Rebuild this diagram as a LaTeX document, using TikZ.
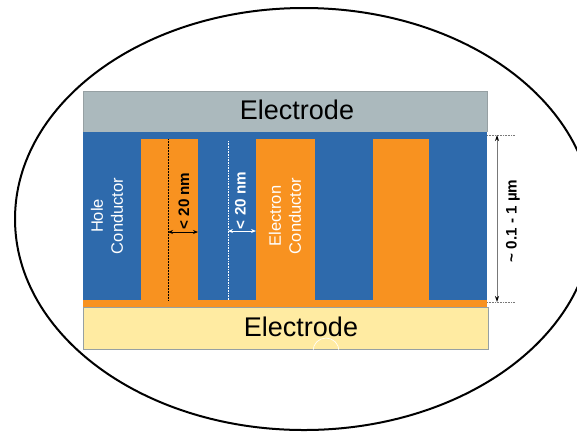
\documentclass[tikz,border=0pt]{standalone}
\usepackage{fontspec}
\setmainfont{Liberation Sans}
\usetikzlibrary{arrows.meta}
\definecolor{elgray}{RGB}{171,185,189}
\definecolor{elgrayline}{RGB}{150,160,163}
\definecolor{cblue}{RGB}{46,106,172}
\definecolor{corange}{RGB}{248,146,32}
\definecolor{cyellow}{RGB}{255,235,162}
\definecolor{dimgray}{RGB}{120,120,120}
\tikzset{
  bigtxt/.style={font=\fontsize{27}{30}\selectfont, text=black, inner sep=0pt},
  condtxt/.style={font=\fontsize{16.5}{20}\selectfont, text=white, align=center, rotate=90, inner sep=0pt},
  dimtxt/.style={font=\bfseries\fontsize{15.2}{18}\selectfont, rotate=90, inner sep=0pt},
  fingerbox/.style={fill=corange},
  dimarrow/.style={line width=0.9pt, {Stealth[length=5pt,width=4pt]}-{Stealth[length=5pt,width=4pt]}},
}
\begin{document}
\begin{tikzpicture}[x=1pt,y=-1pt]
\useasboundingbox (0,0) rectangle (577,432);
% outer ellipse
\begin{scope}
  \clip (0,0) rectangle (577,432);
  \draw[line width=2pt] (304,219) ellipse [x radius=289, y radius=211];
\end{scope}
% top electrode
\fill[elgray] (83,91) rectangle (487,132);
\draw[elgrayline, line width=0.5pt] (83,132) -- (83,91) -- (487,91) -- (487,132);
\node[bigtxt] (topel) at (297,110) {Electrode};
% blue layer
\fill[cblue] (83,132) rectangle (487,300);
% orange fingers and bottom strip
\fill[fingerbox] (141,139) rectangle (198,300);
\fill[fingerbox] (256,139) rectangle (315,300);
\fill[fingerbox] (373,139) rectangle (429,300);
\fill[corange] (83,300) rectangle (487,307);
% bottom electrode
\fill[cyellow] (83,307) rectangle (488,349);
\draw[elgrayline, line width=0.6pt] (83,307) rectangle (488,349);
\begin{scope}
  \clip (83,307) rectangle (488,349);
  \draw[white, line width=0.6pt] (326,351) circle (13);
\end{scope}
\node[bigtxt] (botel) at (301,327) {Electrode};
% conductor labels
\node[condtxt] (hole) at (107,216) {Hole\\Conductor};
\node[condtxt] (elec) at (285,216) {Electron\\Conductor};
% dotted guide lines
\coordinate (g1t) at (168,139); \coordinate (g1b) at (168,300);
\coordinate (g2t) at (228,141); \coordinate (g2b) at (228,300);
\draw[black, densely dotted, line width=0.5pt] (g1t) -- (g1b);
\draw[white, densely dotted, line width=0.6pt] (g2t) -- (g2b);
% width arrows
\coordinate (a1l) at (168,232); \coordinate (a1r) at (198,232);
\coordinate (a2l) at (228,231); \coordinate (a2r) at (256,231);
\draw[dimarrow, black] (a1l) -- (a1r);
\draw[dimarrow, white] (a2l) -- (a2r);
\node[dimtxt, text=black] (w1) at (184,201) {< 20 nm};
\node[dimtxt, text=white] (w2) at (240.5,200.5) {< 20 nm};
% thickness dimension
\coordinate (dt) at (497,135); \coordinate (db) at (497,302);
\draw[dimgray, densely dotted, line width=0.6pt] (487,135) -- (515,135);
\draw[dimgray, densely dotted, line width=0.6pt] (487,302) -- (515,302);
\draw[dimgray, line width=0.8pt, {Stealth[black,length=6pt,width=4pt]}-{Stealth[black,length=6pt,width=4pt]}] (dt) -- (db);
\node[dimtxt, text=black] (thick) at (513,221) {\textasciitilde{} 0.1 - 1 µm};
\end{tikzpicture}
\end{document}
